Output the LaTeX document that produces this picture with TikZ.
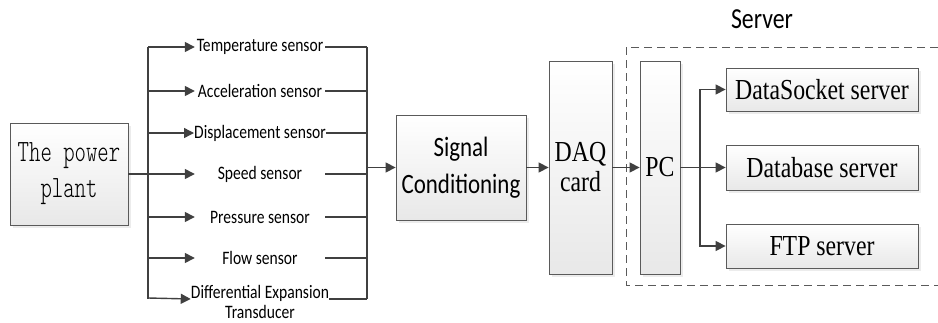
\documentclass[tikz,border=0pt]{standalone}
\usepackage{fontspec}
\usetikzlibrary{arrows.meta, positioning, calc, shadows}
\newfontfamily\sensorfont[FakeStretch=0.82]{Carlito}
\newfontfamily\boxfont[FakeStretch=0.82]{Liberation Serif}
\newfontfamily\plantfont[FakeStretch=0.7]{lmmonolt10-regular.otf}
\definecolor{linegray}{HTML}{404040}
\definecolor{edgegray}{HTML}{5a5a5a}

\begin{document}
\begin{tikzpicture}[x=1pt, y=-1pt,
  box/.style={draw=edgegray, line width=0.8pt, top color=white, bottom color=gray!18,
    drop shadow={shadow xshift=2.5pt, shadow yshift=-2.5pt, fill=gray!30},
    inner sep=0pt, align=center},
  sensor/.style={inner sep=0pt, minimum width=130pt, font=\fontsize{19}{21}\sensorfont},
  wire/.style={line width=1.4pt, draw=linegray},
  arr/.style={wire, -{Triangle[length=10pt,width=10pt]}}]
\useasboundingbox (0,0) rectangle (938,322);

% Source
\node[box, minimum width=118pt, minimum height=102pt, font=\fontsize{31}{36}\plantfont]
  (plant) at (69,174) {The power\\plant};

% Sensors
\coordinate (ltop) at (148,47);
\coordinate (lbot) at (148,299);
\coordinate (rtop) at (367,47);
\coordinate (rbot) at (367,299);
\draw[wire] (ltop) -- (lbot);
\draw[wire] (rtop) -- (rbot);
\foreach \name/\ypos/\txt in {temp/47/Temperature sensor, acc/91/Acceleration sensor,
    disp/133/Displacement sensor, speed/174/Speed sensor, press/217/Pressure sensor,
    flow/258/Flow sensor} {
  \node[sensor] (\name) at (260,\ypos) {\txt};
  \draw[arr] (\name.west -| ltop) -- (\name.west);
  \draw[wire] (\name.east) -- (\name.east -| rtop);
}
\node[sensor, anchor=base] (diff) at (260,298) {Differential Expansion};
\node[sensor, anchor=base] (diff2) at (260,318) {Transducer};
\draw[arr] (diff.base west -| ltop) -- ([yshift=-1pt]diff.base west);
\draw[wire] ([yshift=-1pt]diff.base east) -- ([yshift=-1pt]diff.base east -| rtop);
\draw[wire] (plant.east) -- (plant.east -| ltop);

% Acquisition
\node[box, minimum width=130pt, minimum height=105pt, font=\fontsize{28}{37}\sensorfont]
  (sc) at (461,167.5) {Signal\\Conditioning};
\node[box, minimum width=63pt, minimum height=213pt, font=\fontsize{29}{30}\boxfont]
  (daq) at (580.5,167.5) {DAQ\\card};
\draw[arr] (sc.west -| rtop) -- (sc.west);
\draw[arr] (sc.east) -- (daq.west);

% Server
\draw[edgegray, line width=1pt, dash pattern=on 8pt off 5pt] (626,47) rectangle (960,285);
\node[font=\fontsize{29}{30}\sensorfont] (server) at (762,19) {Server};
\node[box, minimum width=40pt, minimum height=213pt, font=\fontsize{29}{30}\boxfont]
  (pc) at (660,167.5) {PC};
\node[box, minimum width=192pt, minimum height=43pt, font=\fontsize{29}{30}\boxfont]
  (ds) at (822,89.5) {DataSocket server};
\node[box, minimum width=192pt, minimum height=45pt, font=\fontsize{29}{30}\boxfont]
  (db) at (822,167.5) {Database server};
\node[box, minimum width=192pt, minimum height=44pt, font=\fontsize{29}{30}\boxfont]
  (ftp) at (822,246) {FTP server};
\draw[arr] (daq.east) -- (pc.west);
\draw[arr] (pc.east) -- (db.west);
\coordinate (pbus) at (700,167.5);
\draw[arr] (pbus) |- (ds.west);
\draw[arr] (pbus) |- (ftp.west);
\end{tikzpicture}
\end{document}
